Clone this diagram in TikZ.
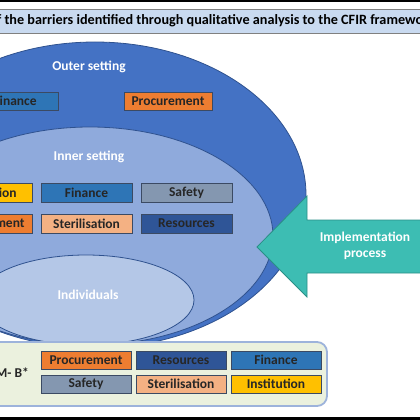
\documentclass[tikz,border=0pt]{standalone}
\usepackage{fontspec}
\setmainfont{Carlito}
\usetikzlibrary{shapes.geometric}
\definecolor{outerblue}{HTML}{4472C4}
\definecolor{innerblue}{HTML}{8FAADC}
\definecolor{indivblue}{HTML}{B4C7E7}
\definecolor{ringline}{HTML}{2F528F}
\definecolor{titlefill}{HTML}{C9DAF0}
\definecolor{implteal}{HTML}{3DBDB3}
\definecolor{tealline}{HTML}{2A8F87}
\definecolor{procorange}{HTML}{ED7D31}
\definecolor{resblue}{HTML}{2F5597}
\definecolor{finblue}{HTML}{2E75B6}
\definecolor{safegray}{HTML}{8497B0}
\definecolor{sterpink}{HTML}{F4B183}
\definecolor{instyellow}{HTML}{FFC000}
\definecolor{mbfill}{HTML}{EBF1DE}
\definecolor{mbline}{HTML}{9DB3DB}
\definecolor{tagline}{HTML}{3B4A63}
\begin{document}
\begin{tikzpicture}[x=1pt, y=-1pt, font=\bfseries\fontsize{13.5}{16}\selectfont,
		ring/.style={ellipse, draw=ringline, line width=0.8pt, inner sep=0pt},
		tag/.style={draw=tagline, line width=0.8pt, minimum width=91pt, minimum height=19pt, inner sep=0pt, text=black!85},
		setting/.style={text=white}]
			\useasboundingbox (0,0) rectangle (420,420);
			\clip (0,0) rectangle (420,420);
			\draw[line width=2.5pt] (-5,1.2) -- (425,1.2);
			\draw[line width=4pt] (-5,418.5) -- (425,418.5);
			\node[draw=gray, fill=titlefill, line width=0.8pt, minimum width=440pt, minimum height=24pt, inner sep=0pt, font=\bfseries\fontsize{14.2}{16}\selectfont] (title) at (210,21) {f the barriers identified through qualitative analysis to the CFIR framewo};
			% nested settings
			\node[ring, fill=outerblue, minimum width=422pt, minimum height=306pt] (outer) at (95,195) {};
			\node[ring, fill=innerblue, minimum width=366pt, minimum height=218pt] (inner) at (90,236) {};
			\node[ring, fill=indivblue, minimum width=216pt, minimum height=90pt] (indiv) at (86,300) {};
			\node[setting] (outerlbl) at (89,67) {Outer setting};
			\node[setting] (innerlbl) at (89,157) {Inner setting};
			\node[setting] (indivlbl) at (88,295) {Individuals};
			\node[tag, fill=finblue, minimum width=88pt, minimum height=18pt, anchor=east, inner xsep=22pt, text width=44pt, align=right] (outerfin) at (59,101) {inance};
			\node[tag, fill=procorange, minimum width=88pt, minimum height=18pt] (outerproc) at (168,101) {Procurement};
			\node[tag, fill=instyellow, anchor=east, inner xsep=16pt, text width=59pt, align=right] (innerinst) at (33,192.5) {ion};
			\node[tag, fill=finblue] (innerfin) at (86.5,192.5) {Finance};
			\node[tag, fill=safegray] (innersafe) at (186.5,192.5) {Safety};
			\node[tag, fill=procorange, anchor=east, inner xsep=8pt, text width=75pt, align=right] (innerproc) at (33,223.5) {ment};
			\node[tag, fill=sterpink] (innerster) at (86.5,223.5) {Sterilisation};
			\node[tag, fill=resblue] (innerres) at (186.5,223.5) {Resources};
			% implementation arrow
			\coordinate (tip) at (257,247); \coordinate (headtop) at (307,196); \coordinate (headbot) at (307,297);
			\draw[fill=implteal, draw=tealline, line width=0.8pt] (tip) -- (headtop) -- (307,220) -- (430,220) -- (430,273) -- (307,273) -- (headbot) -- cycle;
			\node[setting, align=center] (impl) at (365,246) {Implementation\\process};
			% M- B* box
			\node[draw=mbline, fill=mbfill, line width=1.8pt, rounded corners=10pt, minimum width=344pt, minimum height=64pt] (mb) at (155,374) {};
			\node[anchor=east, inner sep=0pt, text=black!85] (mblbl) at (29,373) {M- B*};
			\foreach \n/\t/\c/\x/\y in {proc/Procurement/procorange/86/360, res/Resources/resblue/181/360, fin/Finance/finblue/276/360, safe/Safety/safegray/86/384, ster/Sterilisation/sterpink/181/384, inst/Institution/instyellow/276/384}
				\node[tag, fill=\c, minimum width=90pt, minimum height=18pt] (mb-\n) at (\x,\y) {\t};
\end{tikzpicture}
\end{document}
